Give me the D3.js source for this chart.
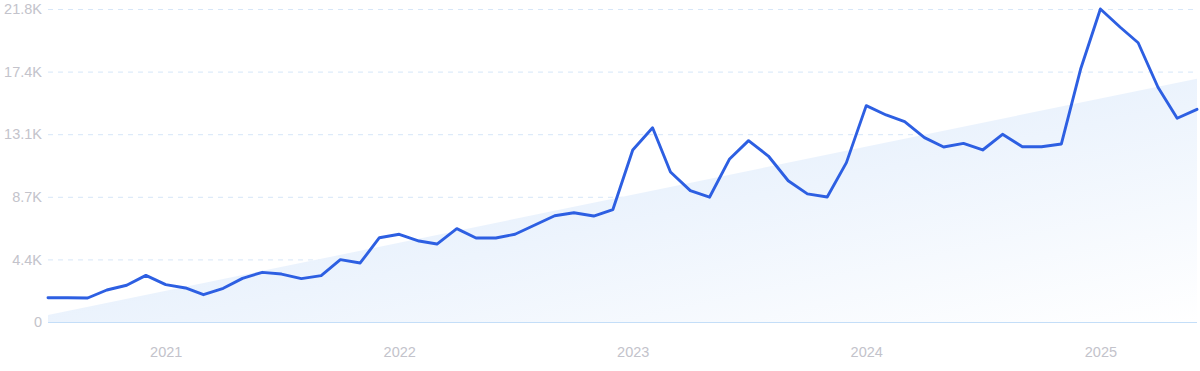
<!DOCTYPE html>
<html>
<head>
<meta charset="utf-8">
<script src="https://cdn.jsdelivr.net/npm/d3@7"></script>
<style>
  body { margin: 0; background: #fff; }
  svg { display: block; font-family: Inter, "Open Sans", sans-serif; }
  .y-axis text, .x-axis text { fill: #c3c3cb; font-size: 14.5px; }
  .grid line { stroke: #d6e6f8; stroke-dasharray: 5 5; }
</style>
</head>
<body>
<svg></svg>
<script>
// DATA
const startMonth = [2020, 6]   // July 2020, one value per month
const values = [
  1690, 1690, 1670, 2230, 2560, 3250, 2600, 2370, 1900, 2350, 3040, 3460,
  3340, 3020, 3230, 4340, 4110, 5870, 6110, 5640, 5430, 6500, 5850, 5850,
  6110, 6760, 7400, 7610, 7380, 7830, 11980, 13530, 10450, 9150, 8690, 11330,
  12630, 11560, 9840, 8920, 8710, 11100, 15070, 14420, 13950, 12840, 12190, 12440,
  11980, 13070, 12210, 12210, 12400, 17600, 21800, 20530, 19450, 16350, 14190, 14810
]
const trendValues = [490, 16950]   // trend at first and last month
const yTicks = [0, 4360, 8720, 13080, 17440, 21800]
const yTickLabels = ["0", "4.4K", "8.7K", "13.1K", "17.4K", "21.8K"]
const years = [2021, 2022, 2023, 2024, 2025]

const data = values.map((v, i) => ({ date: new Date(startMonth[0], startMonth[1] + i, 1), value: v }))

// SETUP
const svg = d3.select("svg")
  .attr("width", 1200)
  .attr("height", 371)

const x = d3.scaleTime()
  .domain(d3.extent(data, d => d.date))
  .range([48, 1197])

const y = d3.scaleLinear()
  .domain([0, 21800])
  .range([322, 9])

const defs = svg.append("defs")
const grad = defs.append("linearGradient")
  .attr("id", "trendFill")
  .attr("x1", 0).attr("y1", 0)
  .attr("x2", 1).attr("y2", 1)
grad.append("stop").attr("offset", "0%").attr("stop-color", "#d8e8fb")
grad.append("stop").attr("offset", "55%").attr("stop-color", "#edf4fd")
grad.append("stop").attr("offset", "100%").attr("stop-color", "#ffffff")

// grid
svg.append("g")
  .attr("class", "grid")
  .selectAll("line")
  .data(yTicks.slice(1))
  .enter()
  .append("line")
  .attr("x1", 48)
  .attr("x2", 1197)
  .attr("y1", d => y(d) + 0.5)
  .attr("y2", d => y(d) + 0.5)

// trend area
const first = data[0].date
const last = data[data.length - 1].date
const trend = [
  { date: first, value: trendValues[0] },
  { date: last, value: trendValues[1] }
]
svg.append("path")
  .datum(trend)
  .attr("fill", "url(#trendFill)")
  .attr("d", d3.area()
    .x(d => x(d.date))
    .y0(y(0))
    .y1(d => y(d.value)))

// baseline
svg.append("line")
  .attr("x1", 48)
  .attr("x2", 1197)
  .attr("y1", y(0) + 0.5)
  .attr("y2", y(0) + 0.5)
  .attr("stroke", "#c4def8")
  .attr("stroke-width", 1)

// y axis
const axisY = d3.axisLeft(y)
  .tickValues(yTicks)
  .tickFormat((d, i) => yTickLabels[i])
  .tickSize(0)
  .tickPadding(6)

svg.append("g")
  .attr("class", "y-axis")
  .attr("transform", "translate(48, 0)")
  .call(axisY)
  .call(g => g.select(".domain").remove())

// x axis
const axisX = d3.axisBottom(x)
  .tickValues(years.map(yr => new Date(yr, 0, 1)))
  .tickFormat(d3.timeFormat("%Y"))
  .tickSize(0)
  .tickPadding(25)

svg.append("g")
  .attr("class", "x-axis")
  .attr("transform", "translate(0, 322)")
  .call(axisX)
  .call(g => g.select(".domain").remove())

// line
svg.append("path")
  .datum(data)
  .attr("fill", "none")
  .attr("stroke", "#2d5fe2")
  .attr("stroke-width", 2.9)
  .attr("stroke-linejoin", "round")
  .attr("stroke-linecap", "round")
  .attr("d", d3.line()
    .x(d => x(d.date))
    .y(d => y(d.value)))
</script>
</body>
</html>
